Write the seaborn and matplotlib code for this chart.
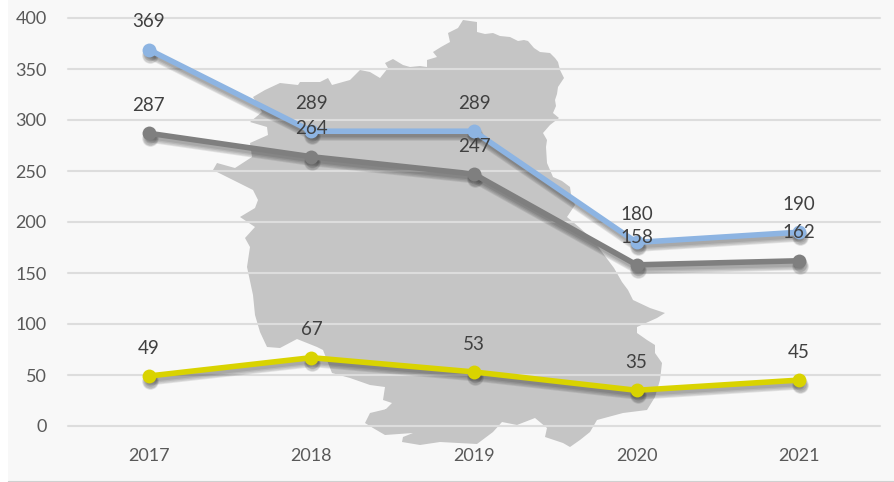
import matplotlib
matplotlib.use("Agg")
import matplotlib.pyplot as plt
from matplotlib.lines import Line2D
from matplotlib.patches import Polygon, Rectangle
from matplotlib.transforms import ScaledTranslation
import pandas as pd
import seaborn as sns

years = ["2017", "2018", "2019", "2020", "2021"]
blue_values = [369, 289, 289, 180, 190]
gray_values = [287, 264, 247, 158, 162]
yellow_values = [49, 67, 53, 35, 45]
series_colors = {"blue": "#8DB4E2", "gray": "#7F7F7F", "yellow": "#D9D300"}
shadow_colors = {"blue": "black", "gray": "black", "yellow": "black"}

# decorative map silhouette behind the chart, in image pixels
map_outline = [
    (463,20),(470,21),(477,22),(477,32),(485,34),(493,33),(500,36),(510,37),(518,41),(524,40),(528,41),
    (534,48),(540,52),(550,53),(555,58),(558,62),(560,70),(564,78),(558,87),(557,94),(555,100),(556,106),
    (553,113),(559,118),(550,125),(543,133),(547,140),(546,147),(547,163),(550,170),(553,177),(562,181),
    (570,187),(571,194),(575,205),(567,217),(580,228),(593,240),(608,260),(614,268),(622,282),(628,290),
    (633,300),(650,308),(665,313),(657,318),(637,327),(637,333),(647,340),(655,345),(655,353),(662,363),
    (660,380),(655,397),(647,410),(623,413),(597,420),(590,432),(580,440),(570,447),(563,443),(545,437),
    (547,428),(535,418),(517,425),(502,422),(493,432),(477,444),(440,442),(420,445),(402,442),(403,437),
    (413,433),(385,435),(373,428),(365,423),(370,413),(395,407),(384,411),(392,403),(383,400),(385,387),
    (370,385),(350,378),(332,373),(323,350),(317,347),(297,339),(280,348),(267,347),(260,332),
    (255,315),(253,295),(247,267),(250,247),(245,238),(255,227),(240,217),(255,208),(258,200),
    (253,190),(233,180),(213,170),(217,163),(235,168),(252,157),(250,143),(268,135),(267,127),
    (250,122),(262,112),(253,97),(265,90),(280,83),(298,85),(300,82),(320,82),(328,78),(332,85),(350,80),
    (360,70),(370,72),(380,78),(388,68),(385,63),(393,59),(403,65),(410,67),(420,66),(427,67),(427,60),
    (437,57),(433,52),(441,47),(450,42),(448,33),(458,28),
]

W, H = 895, 482
sns.set_theme(style="white")
plt.rcParams["font.family"] = ["Lato", "DejaVu Sans"]

fig = plt.figure(figsize=(W / 100, H / 100), dpi=100, facecolor="white")
ax = fig.add_axes([67.5 / W, 1 - 426 / H, (880.5 - 67.5) / W, (426 - 18) / H])
ax.patch.set_alpha(0)

fig.patches.append(Rectangle((8 / W, 1 - 480 / H), (W - 8) / W, 480 / H, transform=fig.transFigure,
                             facecolor="#F8F8F8", edgecolor="none", zorder=-5))
fig.add_artist(Line2D([8 / W, 1], [1 - 481 / H] * 2, transform=fig.transFigure, color="#D0D0D0", linewidth=1))
ax.add_patch(Polygon([(x / W, 1 - y / H) for x, y in map_outline], closed=True, transform=fig.transFigure,
                     facecolor="#C5C5C5", edgecolor="none", clip_on=False, zorder=0.2))

df = pd.DataFrame({
    "year": years * 3,
    "value": blue_values + gray_values + yellow_values,
    "series": ["blue"] * 5 + ["gray"] * 5 + ["yellow"] * 5,
})

# soft drop shadow: a few translucent offset copies of each line
for dx, dy, lw, ms in [(1, -5, 6.5, 12), (1, -5, 5.2, 11), (1, -4.5, 4.0, 10), (1, -4, 2.8, 9)]:
    tr = ax.transData + ScaledTranslation(dx / 100, dy / 100, fig.dpi_scale_trans)
    sns.lineplot(data=df, x="year", y="value", hue="series", palette=shadow_colors, sort=False,
                 errorbar=None, estimator=None, linewidth=lw, marker="o", markersize=ms,
                 markeredgewidth=0, alpha=0.09, legend=False, ax=ax, zorder=2, transform=tr)

sns.lineplot(data=df, x="year", y="value", hue="series", palette=series_colors, sort=False,
             errorbar=None, estimator=None, linewidth=4.0, marker="o", markersize=10,
             markeredgewidth=0, legend=False, ax=ax, zorder=3)

for vals in (blue_values, gray_values, yellow_values):
    for i, v in enumerate(vals):
        ax.annotate(str(v), (i, v), xytext=(0, 20), textcoords="offset points", ha="center",
                    va="center", fontsize=13.5, color="#404040", zorder=6)

ax.set_xlim(-0.5, 4.5)
ax.set_ylim(0, 400)
ax.set_yticks(range(0, 401, 50))
ax.set_xlabel("")
ax.set_ylabel("")
ax.grid(axis="y", color="#DDDDDD", linewidth=1.5, clip_on=False)
ax.grid(axis="x", visible=False)
ax.set_axisbelow(True)
for s in ax.spines.values():
    s.set_visible(False)
ax.tick_params(axis="both", length=0, labelsize=13, labelcolor="#595959")
ax.tick_params(axis="x", pad=15.5)
ax.tick_params(axis="y", pad=15)
fig.savefig("out.png", dpi=100)
